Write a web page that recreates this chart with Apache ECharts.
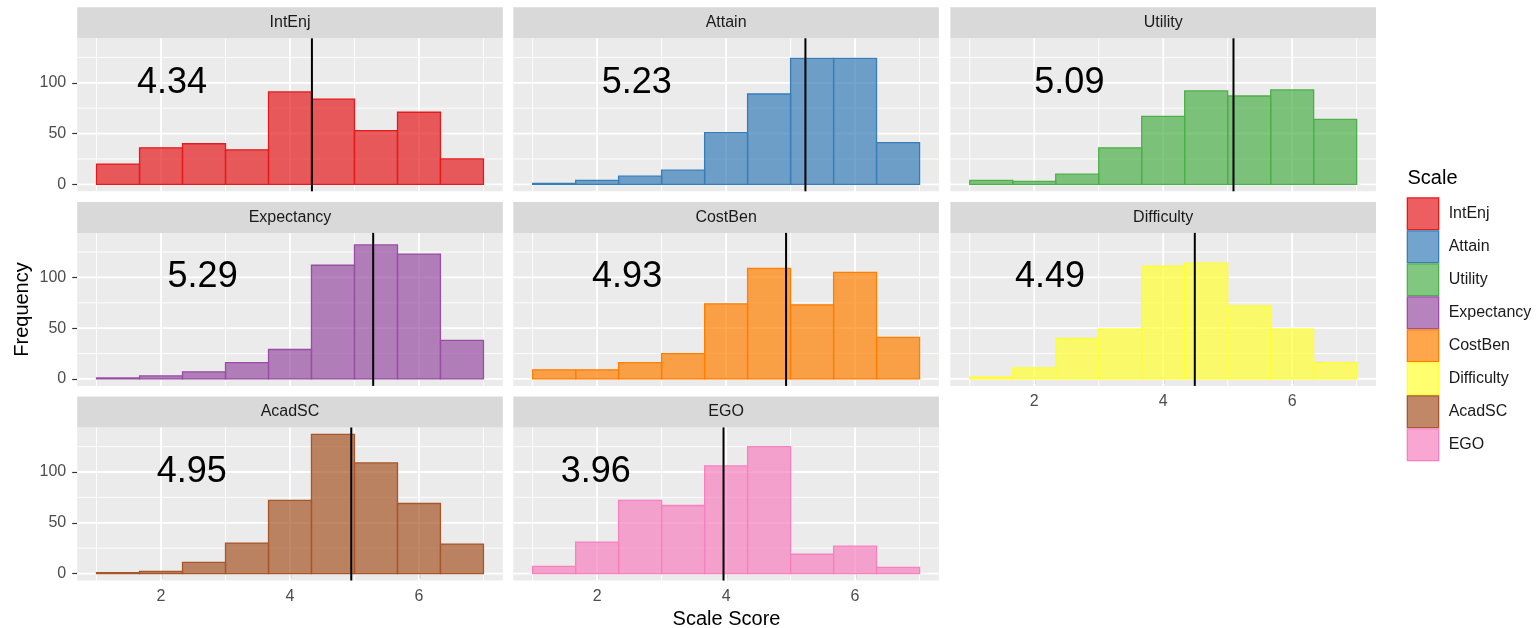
<!DOCTYPE html>
<html>
<head>
<meta charset="utf-8">
<script src="https://cdn.jsdelivr.net/npm/echarts@6/dist/echarts.min.js"></script>
<style>
  html, body { margin: 0; padding: 0; background: #ffffff; }
  #chart { width: 1536px; height: 628px; }
</style>
</head>
<body>
<div id="chart"></div>
<script>
// Scale names, in facet order, and their Set1 colours
const scales = ['IntEnj', 'Attain', 'Utility', 'Expectancy', 'CostBen', 'Difficulty', 'AcadSC', 'EGO'];
const scaleColors = ['#E41A1C', '#377EB8', '#4DAF4A', '#984EA3', '#FF7F00', '#FFFF33', '#A65628', '#F781BF'];

// Histogram bin edges (9 bins over the 1-7 score range)
const binEdges = [1, 1.667, 2.333, 3, 3.667, 4.333, 5, 5.667, 6.333, 7];

// Respondent counts per bin for each scale
const intEnjCounts     = [20, 36, 40, 34, 91, 84, 53, 71, 25];
const attainCounts     = [1, 4, 8, 14, 51, 89, 124, 124, 41];
const utilityCounts    = [4, 3, 10, 36, 67, 92, 87, 93, 64];
const expectancyCounts = [1, 3, 7, 16, 29, 112, 132, 123, 38];
const costBenCounts    = [9, 9, 16, 25, 74, 109, 73, 105, 41];
const difficultyCounts = [2, 11, 40, 49, 111, 114, 72, 49, 16];
const acadSCCounts     = [1, 2, 11, 30, 72, 137, 109, 69, 29];
const egoCounts        = [7, 31, 72, 67, 106, 125, 19, 27, 6];

// Mean scale score for each scale
const scaleMeans = [4.34, 5.23, 5.09, 5.29, 4.93, 4.49, 4.95, 3.96];

// Axis breaks
const xTicks = [2, 4, 6];
const xMinorBreaks = [1, 3, 5, 7];
const yTicks = [0, 50, 100];
const yMinorBreaks = [25, 75, 125];

// Height (in counts) at which the mean is printed
const meanLabelY = 100;

const allCounts = [intEnjCounts, attainCounts, utilityCounts, expectancyCounts,
                   costBenCounts, difficultyCounts, acadSCCounts, egoCounts];

// ---- layout -------------------------------------------------------------
const FONT = '"Liberation Sans", Arial, Helvetica, sans-serif';
const PANEL_W = 425.6;
const PANEL_H = 153;
const STRIP_H = 31;
const COL_X = [77.2, 513.3, 950.4];
const ROW_STRIP_Y = [7.3, 201.9, 396.5];

// shared scales with 5% padding on each side
const xLo = binEdges[0], xHi = binEdges[binEdges.length - 1];
const xPad = (xHi - xLo) * 0.05;
const xMin = xLo - xPad, xMax = xHi + xPad;
const yTop = Math.max(...allCounts.map(c => Math.max(...c)));
const yPad = yTop * 0.05;
const yMin = -yPad, yMax = yTop + yPad;

function rgba(hex, a) {
  const n = parseInt(hex.slice(1), 16);
  return 'rgba(' + ((n >> 16) & 255) + ',' + ((n >> 8) & 255) + ',' + (n & 255) + ',' + a + ')';
}

const grids = [], xAxes = [], yAxes = [], series = [], graphics = [];

// grid line records: [vertical?1:0, value, major?1:0]
const gridLineData = []
  .concat(yTicks.map(v => [0, v, 1]))
  .concat(yMinorBreaks.map(v => [0, v, 0]))
  .concat(xTicks.map(v => [1, v, 1]))
  .concat(xMinorBreaks.map(v => [1, v, 0]));

scales.forEach((name, i) => {
  const col = i % 3, row = Math.floor(i / 3);
  const left = COL_X[col];
  const stripTop = ROW_STRIP_Y[row];
  const top = stripTop + STRIP_H;
  const showX = (i >= 5);          // panels with nothing below them
  const showY = (col === 0);

  grids.push({
    left: left, top: top, width: PANEL_W, height: PANEL_H,
    containLabel: false, outerBoundsMode: 'none',
    show: true, backgroundColor: '#EBEBEB', borderWidth: 0
  });

  xAxes.push({
    type: 'value', gridIndex: i, min: xMin, max: xMax,
    axisLine: { show: false },
    splitLine: { show: false },
    axisTick: { show: showX, customValues: xTicks, length: 5,
                lineStyle: { color: '#333333', width: 1.2 } },
    axisLabel: { show: showX, customValues: xTicks, margin: 8,
                 color: '#4D4D4D', fontSize: 16, fontFamily: FONT }
  });

  yAxes.push({
    type: 'value', gridIndex: i, min: yMin, max: yMax,
    axisLine: { show: false },
    splitLine: { show: false },
    axisTick: { show: showY, customValues: yTicks, length: 5,
                lineStyle: { color: '#333333', width: 1.2 } },
    axisLabel: { show: showY, customValues: yTicks, margin: 11,
                 color: '#4D4D4D', fontSize: 16, fontFamily: FONT }
  });

  // white panel grid
  series.push({
    type: 'custom', xAxisIndex: i, yAxisIndex: i, z: 1, silent: true,
    data: gridLineData,
    renderItem: function (params, api) {
      const cs = params.coordSys;
      const vertical = api.value(0) === 1;
      const v = api.value(1);
      const w = api.value(2) === 1 ? 1.8 : 0.9;
      let shape;
      if (vertical) {
        const p = api.coord([v, 0]);
        shape = { x1: p[0], y1: cs.y, x2: p[0], y2: cs.y + cs.height };
      } else {
        const p = api.coord([xLo, v]);
        shape = { x1: cs.x, y1: p[1], x2: cs.x + cs.width, y2: p[1] };
      }
      return { type: 'line', shape: shape, style: { stroke: '#FFFFFF', lineWidth: w } };
    }
  });

  // histogram bars
  const color = scaleColors[i];
  const fill = rgba(color, 0.7);
  const counts = allCounts[i];
  series.push({
    name: name, type: 'custom', xAxisIndex: i, yAxisIndex: i, z: 2, silent: true,
    itemStyle: { color: fill, borderColor: color, borderWidth: 1.3 },
    data: counts.map((n, k) => [binEdges[k], binEdges[k + 1], n]),
    renderItem: function (params, api) {
      const a = api.coord([api.value(0), api.value(2)]);
      const b = api.coord([api.value(1), 0]);
      return {
        type: 'rect',
        shape: { x: a[0], y: a[1], width: b[0] - a[0], height: b[1] - a[1] },
        style: { fill: fill, stroke: color, lineWidth: 1.3 }
      };
    }
  });

  // mean line and printed mean
  series.push({
    type: 'custom', xAxisIndex: i, yAxisIndex: i, z: 3, silent: true,
    data: [[scaleMeans[i]]],
    renderItem: function (params, api) {
      const cs = params.coordSys;
      const m = api.value(0);
      const lx = api.coord([m, 0])[0];
      const tp = api.coord([m / 2, meanLabelY]);
      return {
        type: 'group',
        children: [
          { type: 'line', shape: { x1: lx, y1: cs.y, x2: lx, y2: cs.y + cs.height },
            style: { stroke: '#000000', lineWidth: 2 } },
          { type: 'text', x: tp[0], y: tp[1],
            style: { text: m.toFixed(2), fill: '#000000', align: 'center', verticalAlign: 'middle',
                     font: '36px ' + FONT } }
        ]
      };
    }
  });

  // facet strip
  graphics.push({
    type: 'rect', silent: true,
    shape: { x: left, y: stripTop, width: PANEL_W, height: STRIP_H },
    style: { fill: '#D9D9D9' }
  });
  graphics.push({
    type: 'text', silent: true, x: left + PANEL_W / 2, y: stripTop + STRIP_H / 2,
    style: { text: name, fill: '#1A1A1A', align: 'center', verticalAlign: 'middle',
             font: '16px ' + FONT }
  });
});

// axis titles and legend title
graphics.push({
  type: 'text', silent: true, x: 22.5, y: 309.5, rotation: Math.PI / 2,
  style: { text: 'Frequency', fill: '#000000', align: 'center', verticalAlign: 'middle', font: '20px ' + FONT }
});
graphics.push({
  type: 'text', silent: true, x: 726.5, y: 619,
  style: { text: 'Scale Score', fill: '#000000', align: 'center', verticalAlign: 'middle', font: '20px ' + FONT }
});
graphics.push({
  type: 'text', silent: true, x: 1407.5, y: 178.5,
  style: { text: 'Scale', fill: '#000000', align: 'left', verticalAlign: 'middle', font: '20px ' + FONT }
});

const chart = echarts.init(document.getElementById('chart'), null, { renderer: 'canvas' });
chart.setOption({
  animation: false,
  backgroundColor: '#FFFFFF',
  grid: grids,
  xAxis: xAxes,
  yAxis: yAxes,
  legend: {
    orient: 'vertical', left: 1406.7, top: 197.3, padding: 0,
    itemWidth: 31.3, itemHeight: 31.7, itemGap: 0, icon: 'rect', selectedMode: false,
    textStyle: { fontSize: 16, color: '#1A1A1A', fontFamily: FONT, padding: [0, 0, 0, 5] },
    data: scales.map((s, i) => ({
      name: s,
      itemStyle: { color: rgba(scaleColors[i], 0.7), borderColor: scaleColors[i], borderWidth: 1.3 }
    }))
  },
  series: series,
  graphic: graphics
});
</script>
</body>
</html>
